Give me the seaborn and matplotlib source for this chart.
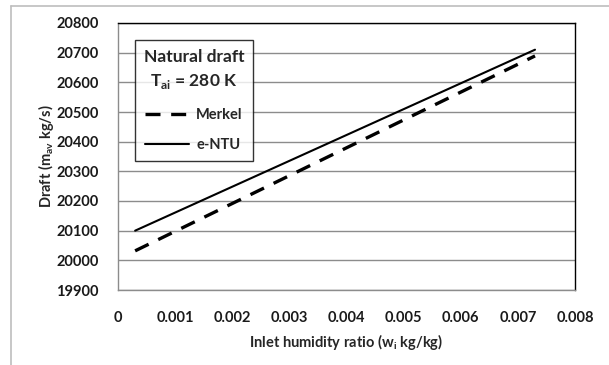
import matplotlib
matplotlib.use("Agg")
import matplotlib.pyplot as plt
import seaborn as sns
import pandas as pd
from matplotlib.lines import Line2D

# Data
humidity = [0.0003, 0.0073]
merkel = [20032, 20689]
entu = [20100, 20710]

x_ticks = [0, 0.001, 0.002, 0.003, 0.004, 0.005, 0.006, 0.007, 0.008]
x_tick_labels = ["0", "0.001", "0.002", "0.003", "0.004", "0.005", "0.006", "0.007", "0.008"]
y_ticks = list(range(19900, 20801, 100))

df = pd.DataFrame({
    "w": humidity * 2,
    "draft": merkel + entu,
    "model": ["Merkel"] * len(humidity) + ["e-NTU"] * len(humidity),
})

sns.set_theme(style="white")
plt.rcParams['font.family'] = ['Lato', 'DejaVu Sans']

fig = plt.figure(figsize=(6.09, 3.65), dpi=100)
ax = fig.add_axes([118/609, 1-290/365, (575-118)/609, (290-23)/365])

DASH = [4.5, 3.2]
sns.lineplot(data=df[df.model == "Merkel"], x="w", y="draft", ax=ax, color="black",
             linewidth=2.4, legend=False)
sns.lineplot(data=df[df.model == "e-NTU"], x="w", y="draft", ax=ax, color="black",
             linewidth=1.5, legend=False)
ax.lines[0].set_dashes(DASH)

ax.set_xlim(0, 0.008)
ax.set_ylim(19900, 20800)
ax.set_xticks(x_ticks)
ax.set_xticklabels(x_tick_labels)
ax.set_yticks(y_ticks)
ax.set_yticklabels([str(v) for v in y_ticks])
ax.yaxis.grid(True, color="#8c8c8c", linewidth=1.0)
ax.set_axisbelow(True)

for s in ["top", "right"]:
    ax.spines[s].set_color("black")
    ax.spines[s].set_linewidth(1.0)
for s in ["left", "bottom"]:
    ax.spines[s].set_color("#8c8c8c")
    ax.spines[s].set_linewidth(1.0)

ax.tick_params(axis="x", direction="in", length=4, width=1, color="#8c8c8c",
               pad=15, labelsize=10.5)
ax.tick_params(axis="y", length=0, pad=14, labelsize=10.5)
for lab in ax.get_xticklabels() + ax.get_yticklabels():
    lab.set_fontweight("bold")
    lab.set_color("#1a1a1a")

ax.set_xlabel("Inlet humidity ratio (w$_{\\mathregular{i}}$ kg/kg)", fontsize=10.5,
              fontweight="bold", labelpad=5)
ax.set_ylabel("Draft (m$_{\\mathregular{av}}$ kg/s)", fontsize=10.5, fontweight="bold",
              labelpad=0)

handles = [Line2D([0], [0], color="black", linewidth=2.4, dashes=DASH),
           Line2D([0], [0], color="black", linewidth=1.5)]
leg = ax.legend(handles, ["Merkel", "e-NTU"], loc="upper left",
                bbox_to_anchor=(0.037, 0.936), borderaxespad=0,
                title="Natural draft\nT$_{\\mathregular{ai}}$ = 280 K",
                title_fontproperties={"weight": "bold", "size": 12.5, "family": "Lato"},
                prop={"weight": "bold", "size": 10.5, "family": "Lato"},
                frameon=True, fancybox=False, handlelength=3.0, labelspacing=1.15,
                handletextpad=0.5, borderpad=0.6)
leg.get_frame().set_edgecolor("black")
leg.get_frame().set_linewidth(1.0)
leg.get_title().set_multialignment("center")
leg.get_title().set_linespacing(1.5)

# outer chart-area frame
fig.add_artist(Line2D([11/609, 11/609], [0, 1-6/365], color="#bdbdbd", linewidth=1.2,
                      transform=fig.transFigure))
fig.add_artist(Line2D([11/609, 1], [1-6/365, 1-6/365], color="#bdbdbd", linewidth=1.2,
                      transform=fig.transFigure))

fig.savefig("out.png", dpi=100)
